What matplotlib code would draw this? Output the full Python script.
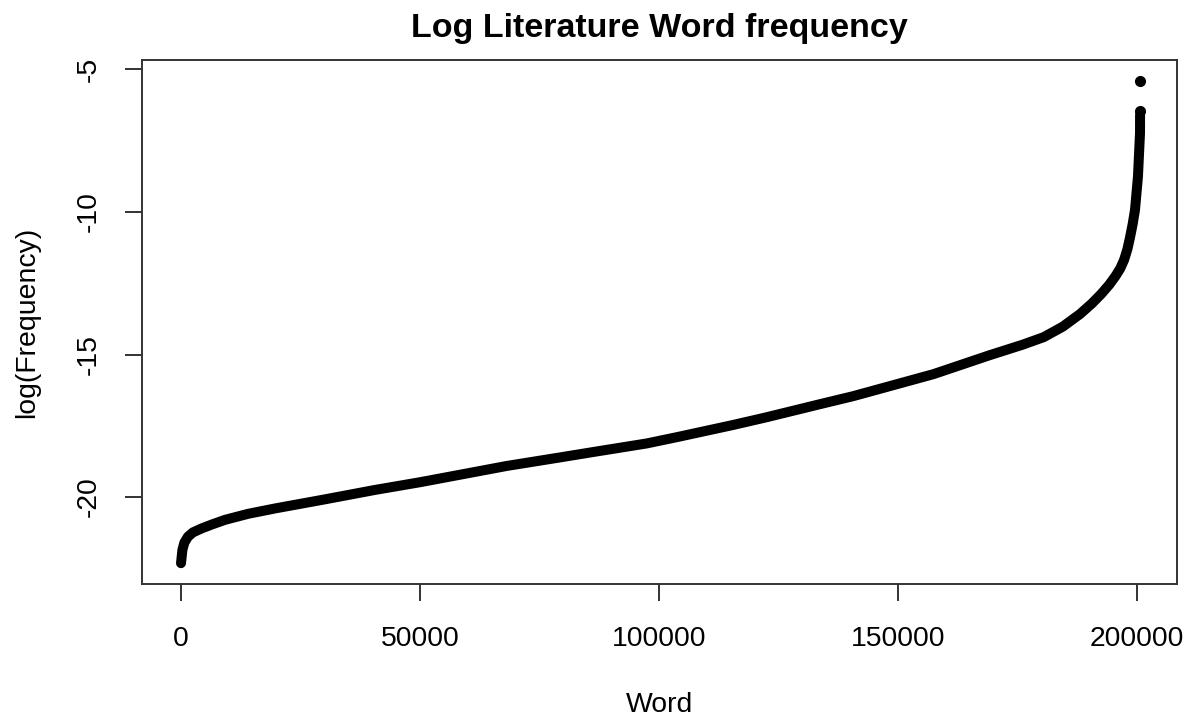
import matplotlib
matplotlib.use("Agg")
import matplotlib.pyplot as plt

# Sorted word ranks and log frequencies
word_rank = [0, 300, 700, 1460, 2500, 4330, 6500, 9200, 14000, 19670, 30130,
             40590, 50000, 68130, 79290, 86250, 97420, 104000, 115550, 122530,
             132990, 140650, 157400, 169250, 176000, 180500, 184500, 188080,
             190500, 192500, 194200, 195500, 196500, 197300, 198000, 198530,
             199100, 199580, 200200, 200630, 200640]
log_freq = [-22.32, -21.85, -21.60, -21.39, -21.24, -21.10, -20.96, -20.80,
            -20.59, -20.40, -20.08, -19.75, -19.48, -18.91, -18.61, -18.42,
            -18.12, -17.89, -17.47, -17.20, -16.77, -16.46, -15.69, -15.02,
            -14.66, -14.39, -14.02, -13.58, -13.22, -12.88, -12.55, -12.25,
            -11.98, -11.68, -11.30, -10.90, -10.42, -9.93, -8.76, -7.23,
            -6.60]
# isolated top points (most frequent words)
top_rank = [200650, 200660]
top_freq = [-6.45, -5.42]

x_ticks = [0, 50000, 100000, 150000, 200000]
y_ticks = [-20, -15, -10, -5]

plt.rcParams['font.family'] = ['Liberation Sans', 'DejaVu Sans']

W, H = 1189, 719
fig = plt.figure(figsize=(W / 100, H / 100), dpi=100)
ax = fig.add_axes([142 / W, 1 - 584 / H, (1177 - 142) / W, (584 - 60) / H])

ax.plot(word_rank, log_freq, color='black', lw=7.2, solid_capstyle='round',
        solid_joinstyle='round')
ax.plot(top_rank, top_freq, 'o', color='black', ms=7, mec='black')

ax.set_xlim(-8159, 208368)
ax.set_ylim(-23.05, -4.67)

ax.set_xticks(x_ticks)
ax.set_xticklabels([str(v) for v in x_ticks])
ax.set_yticks(y_ticks)
ax.set_yticklabels([str(v) for v in y_ticks], rotation=90, va='center')

spine_col = '#333333'
for s in ax.spines.values():
    s.set_color(spine_col)
    s.set_linewidth(1.4)
ax.tick_params(axis='both', length=12, width=1.4, color=spine_col,
               labelsize=20.4, labelcolor='black')
ax.tick_params(axis='x', pad=18)
ax.tick_params(axis='y', pad=17)

fig.text(659.5 / W, 1 - 28 / H, 'Log Literature Word frequency',
         ha='center', va='center', fontsize=24.5, fontweight='bold')
fig.text(659.5 / W, 1 - 705 / H, 'Word', ha='center', va='center',
         fontsize=20.4)
fig.text(27 / W, 1 - 322 / H, 'log(Frequency)', ha='center', va='center',
         rotation=90, fontsize=20.4)

fig.savefig('out.png', dpi=100)
